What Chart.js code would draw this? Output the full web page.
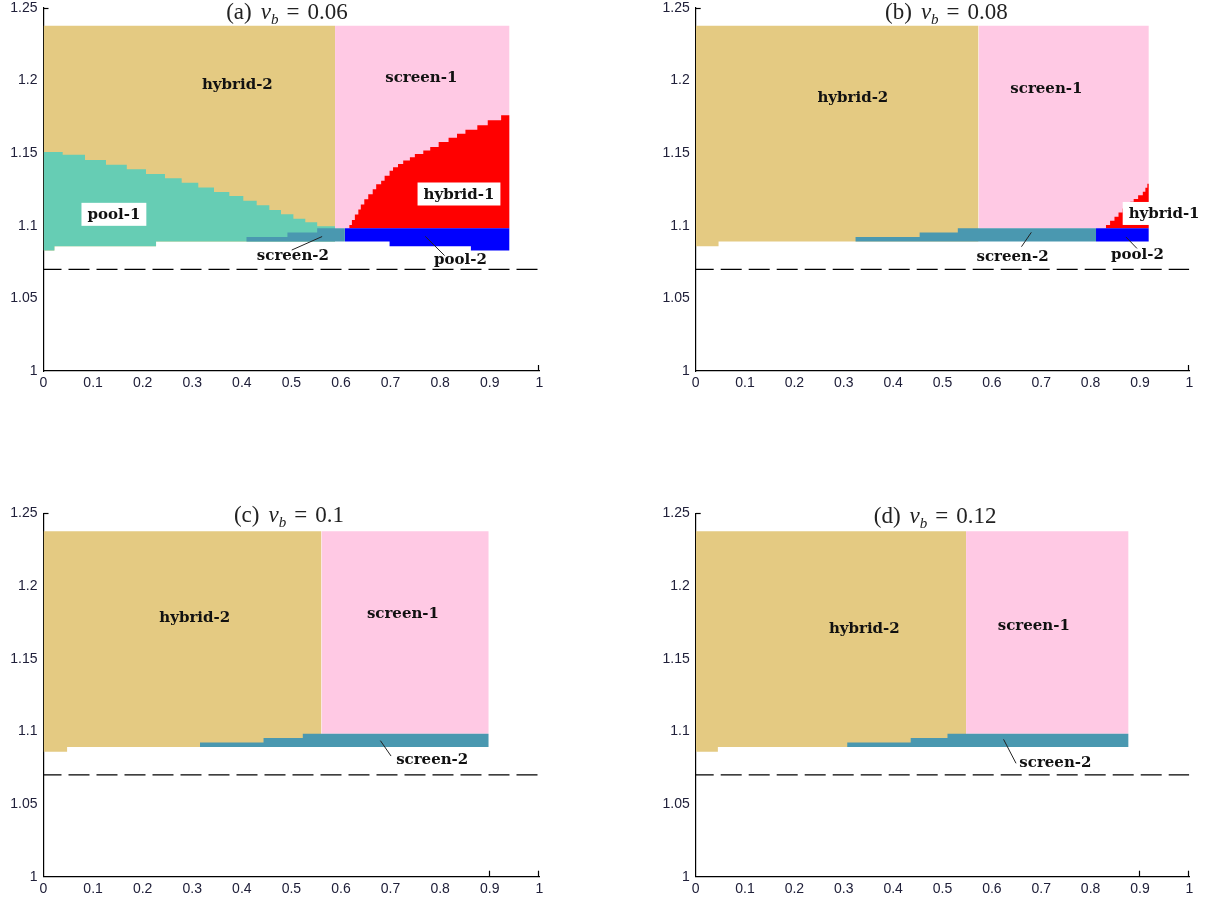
<!DOCTYPE html>
<html>
<head>
<meta charset="utf-8">
<title>Equilibrium regions</title>
<script src="https://cdn.jsdelivr.net/npm/chart.js@4.4.1/dist/chart.umd.min.js"></script>
<style>
  html, body { margin: 0; padding: 0; background: #fff; }
  body { width: 1211px; height: 903px; position: relative; overflow: hidden; }
  .panel { position: absolute; }
  .panel canvas { display: block; }
</style>
</head>
<body>
<div class="panel" id="panelA"><canvas id="chartA"></canvas></div>
<div class="panel" id="panelB"><canvas id="chartB"></canvas></div>
<div class="panel" id="panelC"><canvas id="chartC"></canvas></div>
<div class="panel" id="panelD"><canvas id="chartD"></canvas></div>
<script>
// axis ticks (shared by all four panels)
const xTicks = [0, 0.1, 0.2, 0.3, 0.4, 0.5, 0.6, 0.7, 0.8, 0.9, 1];
const yTicks = [1, 1.05, 1.1, 1.15, 1.2, 1.25];

// common levels
const topY = 1.2377;      // top of the hybrid-2 / screen-1 blocks
const bandTop = 1.0983;   // top of screen-2 / pool-2 band
const bandBottom = 1.0892;
const dashY = 1.07;

// (a) nu_b = 0.06  -- stepped boundaries [x, y]
const aHybrid2 = [[0, 1.083], [0.022, 1.086], [0.227, 1.0892], [0.588, 1.0892]];
const aScreen1 = [[0.588, 1.0983], [0.94, 1.0983]];
const aPool1 = [[0, 1.1508], [0.0387, 1.149], [0.0837, 1.1453], [0.126, 1.1421], [0.168, 1.1389],
  [0.2067, 1.1357], [0.245, 1.1327], [0.2787, 1.1297], [0.3122, 1.1263], [0.3439, 1.1233],
  [0.3748, 1.1205], [0.403, 1.1173], [0.43, 1.1141], [0.4555, 1.1109], [0.479, 1.1079],
  [0.504, 1.1049], [0.528, 1.1025], [0.552, 1.0997], [0.588, 1.0997]];
const aScreen2 = [[0.409, 1.0923], [0.492, 1.0954], [0.552, 1.0983], [0.608, 1.0983]];
const aPool2 = [[0.608, 1.0892], [0.698, 1.086], [0.862, 1.083], [0.94, 1.083]];
const aHybrid1 = [[0.6166, 1.1005], [0.622, 1.104], [0.628, 1.1078], [0.635, 1.1113], [0.64, 1.1147],
  [0.647, 1.1183], [0.655, 1.1217], [0.664, 1.1252], [0.671, 1.1287], [0.681, 1.131],
  [0.688, 1.1344], [0.698, 1.1379], [0.705, 1.1403], [0.715, 1.1426], [0.7255, 1.1449],
  [0.739, 1.1472], [0.749, 1.1495], [0.766, 1.1519], [0.78, 1.1542], [0.797, 1.1577],
  [0.817, 1.1607], [0.834, 1.1634], [0.851, 1.1662], [0.875, 1.1692], [0.896, 1.1727],
  [0.923, 1.1762], [0.94, 1.1762]];
const aLeaders = [[[0.5007, 1.0833], [0.562, 1.0926]], [[0.77, 1.0927], [0.809, 1.0795]]];
const aLabels = [['hybrid-2', 0.391, 1.1977, false], ['screen-1', 0.762, 1.2023, false],
  ['pool-1', 0.142, 1.1079, true], ['hybrid-1', 0.838, 1.1219, true],
  ['screen-2', 0.503, 1.0799, false], ['pool-2', 0.841, 1.0769, false]];

// (b) nu_b = 0.08
const bHybrid2 = [[0, 1.086], [0.0463, 1.0892], [0.573, 1.0892]];
const bScreen1 = [[0.573, 1.0983], [0.918, 1.0983]];
const bScreen2 = [[0.3234, 1.0923], [0.4537, 1.0954], [0.531, 1.0983], [0.811, 1.0983]];
const bPool2 = [[0.811, 1.0892], [0.918, 1.0892]];
const bHybrid1 = [[0.831, 1.1006], [0.8395, 1.1034], [0.8484, 1.1062], [0.8566, 1.1092],
  [0.8649, 1.112], [0.8738, 1.1146], [0.8805, 1.1165], [0.8873, 1.1185], [0.8963, 1.121],
  [0.9058, 1.1235], [0.911, 1.1262], [0.915, 1.129], [0.918, 1.129]];
const bLeaders = [[[0.66, 1.0856], [0.68, 1.0955]], [[0.8716, 1.0923], [0.894, 1.0844]]];
const bLabels = [['hybrid-2', 0.3184, 1.1885, false], ['screen-1', 0.7105, 1.1947, false],
  ['hybrid-1', 0.949, 1.1085, true], ['screen-2', 0.642, 1.0792, false],
  ['pool-2', 0.895, 1.0806, false]];

// (c) nu_b = 0.1
const cHybrid2 = [[0, 1.086], [0.0476, 1.0892], [0.5605, 1.0892]];
const cScreen1 = [[0.5605, 1.0983], [0.898, 1.0983]];
const cScreen2 = [[0.3156, 1.0923], [0.4438, 1.0954], [0.523, 1.0983], [0.898, 1.0983]];
const cLeaders = [[[0.6795, 1.0936], [0.701, 1.083]]];
const cLabels = [['hybrid-2', 0.305, 1.1785, false], ['screen-1', 0.725, 1.1816, false],
  ['screen-2', 0.784, 1.0807, false]];

// (d) nu_b = 0.12
const dHybrid2 = [[0, 1.086], [0.0449, 1.0892], [0.5477, 1.0892]];
const dScreen1 = [[0.5477, 1.0983], [0.877, 1.0983]];
const dScreen2 = [[0.3068, 1.0923], [0.4356, 1.0954], [0.5101, 1.0983], [0.877, 1.0983]];
const dLeaders = [[[0.6237, 1.0945], [0.649, 1.078]]];
const dLabels = [['hybrid-2', 0.3416, 1.1709, false], ['screen-1', 0.685, 1.173, false],
  ['screen-2', 0.7287, 1.0791, false]];

const COLORS = {
  hybrid2: 'rgb(228,202,130)',
  screen1: 'rgb(255,201,228)',
  pool1: 'rgb(102,205,180)',
  screen2: 'rgb(74,152,176)',
  hybrid1: 'rgb(255,0,0)',
  pool2: 'rgb(0,0,255)'
};

const panels = [
  { canvas: 'chartA', left: 0, top: 0, width: 562, height: 400, axisW: 43.5, padTop: 8, plotW: 495.8, plotH: 363,
    tag: 'a', nu: '0.06', titleX: 0.491, titleDy: 11, markX: [1],
    hybrid2: aHybrid2, screen1: aScreen1, pool1: aPool1, screen2: aScreen2, pool2: aPool2, hybrid1: aHybrid1,
    leaders: aLeaders, labels: aLabels },
  { canvas: 'chartB', left: 650, top: 0, width: 562, height: 400, axisW: 45.7, padTop: 8, plotW: 493.6, plotH: 363,
    tag: 'b', nu: '0.08', titleX: 0.508, titleDy: 11, markX: [1],
    hybrid2: bHybrid2, screen1: bScreen1, screen2: bScreen2, pool2: bPool2, hybrid1: bHybrid1,
    leaders: bLeaders, labels: bLabels },
  { canvas: 'chartC', left: 0, top: 500, width: 562, height: 403, axisW: 43.5, padTop: 13.3, plotW: 495.8, plotH: 363.4,
    tag: 'c', nu: '0.1', titleX: 0.495, titleDy: 8.5, markX: [0.9, 1],
    hybrid2: cHybrid2, screen1: cScreen1, screen2: cScreen2,
    leaders: cLeaders, labels: cLabels },
  { canvas: 'chartD', left: 650, top: 500, width: 562, height: 403, axisW: 45.7, padTop: 13.3, plotW: 493.6, plotH: 363.4,
    tag: 'd', nu: '0.12', titleX: 0.485, titleDy: 9.5, markX: [0.9, 1],
    hybrid2: dHybrid2, screen1: dScreen1, screen2: dScreen2,
    leaders: dLeaders, labels: dLabels }
];

Chart.defaults.font.family = '"Liberation Sans", Arial, sans-serif';
Chart.defaults.font.size = 14;
Chart.defaults.color = '#20203a';

function toPts(arr) {
  return arr.map(p => ({ x: p[0], y: p[1] }));
}

function regionSet(points, color, fill) {
  return { data: toPts(points), stepped: true, borderWidth: 0, pointRadius: 0, backgroundColor: color, fill: fill };
}

function lineSet(points, extra) {
  return Object.assign({ data: toPts(points), borderColor: '#000', borderWidth: 1, pointRadius: 0, fill: false }, extra);
}

function buildDatasets(p) {
  const sets = [];
  sets.push(lineSet([[0, dashY], [1, dashY]], { borderWidth: 1.3, borderDash: [21, 7], borderDashOffset: 3 }));
  p.leaders.forEach(l => sets.push(lineSet(l, { borderColor: '#222', borderWidth: 1 })));
  sets.push(regionSet(p.screen2, COLORS.screen2, { value: bandBottom }));
  if (p.pool2) sets.push(regionSet(p.pool2, COLORS.pool2, { value: bandTop }));
  if (p.hybrid1) sets.push(regionSet(p.hybrid1, COLORS.hybrid1, { value: bandTop }));
  if (p.pool1) {
    // pool-1 is filled down to the hybrid-2 lower edge (next dataset)
    sets.push(regionSet(p.pool1, COLORS.pool1, sets.length + 1));
  }
  sets.push(regionSet(p.hybrid2, COLORS.hybrid2, { value: topY }));
  sets.push(regionSet(p.screen1, COLORS.screen1, { value: topY }));
  return sets;
}

function drawTitle(ctx, cx, baseline, tag, nu) {
  const parts = [
    { t: '(' + tag + ')', f: '23px "Liberation Serif"', dy: 0, gap: 9 },
    { t: '\u03BD', f: 'italic 23px "Liberation Serif"', dy: 0, gap: 0 },
    { t: 'b', f: 'italic 15px "Liberation Serif"', dy: 5, gap: 8 },
    { t: '=', f: '23px "Liberation Serif"', dy: 0, gap: 8 },
    { t: nu, f: '23px "Liberation Serif"', dy: 0, gap: 0 }
  ];
  let total = 0;
  parts.forEach(pt => {
    ctx.font = pt.f;
    pt.w = ctx.measureText(pt.t).width;
    total += pt.w + pt.gap;
  });
  let x = cx - total / 2;
  ctx.fillStyle = '#222';
  ctx.textAlign = 'left';
  ctx.textBaseline = 'alphabetic';
  parts.forEach(pt => {
    ctx.font = pt.f;
    ctx.fillText(pt.t, x, baseline + pt.dy);
    x += pt.w + pt.gap;
  });
}

function makeDecor(p) {
  return {
    id: 'decor' + p.tag,
    afterDatasetsDraw(chart) {
      const { ctx, chartArea } = chart;
      const xs = chart.scales.x, ys = chart.scales.y;
      ctx.save();

      // short inward tick marks, as in the original axes
      ctx.strokeStyle = '#000';
      ctx.lineWidth = 1.2;
      p.markX.forEach(v => {
        const px = Math.round(xs.getPixelForValue(v)) - 0.5;
        ctx.beginPath();
        ctx.moveTo(px, chartArea.bottom);
        ctx.lineTo(px, chartArea.bottom - 6);
        ctx.stroke();
      });
      const py0 = Math.round(ys.getPixelForValue(1.25)) + 0.5;
      ctx.beginPath();
      ctx.moveTo(chartArea.left, py0);
      ctx.lineTo(chartArea.left + 5, py0);
      ctx.stroke();

      // region labels
      ctx.font = 'bold 15px "DejaVu Serif"';
      ctx.textAlign = 'center';
      ctx.textBaseline = 'middle';
      p.labels.forEach(l => {
        const px = xs.getPixelForValue(l[1]);
        const py = ys.getPixelForValue(l[2]);
        if (l[3]) {
          const w = ctx.measureText(l[0]).width + 12;
          const h = 23;
          ctx.fillStyle = '#fff';
          ctx.fillRect(px - w / 2, py - h / 2, w, h);
        }
        ctx.fillStyle = '#111';
        ctx.fillText(l[0], px, py + 1);
      });

      drawTitle(ctx, xs.getPixelForValue(p.titleX), chartArea.top + p.titleDy, p.tag, p.nu);
      ctx.restore();
    }
  };
}

function fmt(v) {
  return String(Math.round(v * 100) / 100);
}

function buildChart(p) {
  const holder = document.getElementById(p.canvas).parentNode;
  holder.style.left = p.left + 'px';
  holder.style.top = p.top + 'px';
  const canvas = document.getElementById(p.canvas);
  canvas.width = p.width;
  canvas.height = p.height;
  canvas.style.width = p.width + 'px';
  canvas.style.height = p.height + 'px';
  const xAxisH = p.height - p.padTop - p.plotH;

  return new Chart(canvas.getContext('2d'), {
    type: 'line',
    data: { datasets: buildDatasets(p) },
    options: {
      responsive: false,
      animation: false,
      devicePixelRatio: 1,
      events: [],
      layout: { padding: { left: 0, top: p.padTop, right: p.width - p.axisW - p.plotW, bottom: 0 } },
      plugins: { legend: { display: false }, tooltip: { enabled: false } },
      scales: {
        x: {
          type: 'linear', min: 0, max: 1,
          grid: { display: false, drawTicks: false },
          border: { display: true, color: '#000', width: 1.2 },
          ticks: { padding: 4, maxRotation: 0, autoSkip: false, callback: fmt },
          afterBuildTicks: s => { s.ticks = xTicks.map(v => ({ value: v })); },
          afterFit: s => { s.height = xAxisH; s.paddingLeft = 0; s.paddingRight = 0; }
        },
        y: {
          type: 'linear', min: 1, max: 1.25,
          grid: { display: false, drawTicks: false },
          border: { display: true, color: '#000', width: 1.2 },
          ticks: { padding: 6, autoSkip: false, callback: fmt },
          afterBuildTicks: s => { s.ticks = yTicks.map(v => ({ value: v })); },
          afterFit: s => { s.width = p.axisW; s.paddingTop = 0; s.paddingBottom = 0; }
        }
      }
    },
    plugins: [makeDecor(p)]
  });
}

panels.forEach(buildChart);
</script>
</body>
</html>
